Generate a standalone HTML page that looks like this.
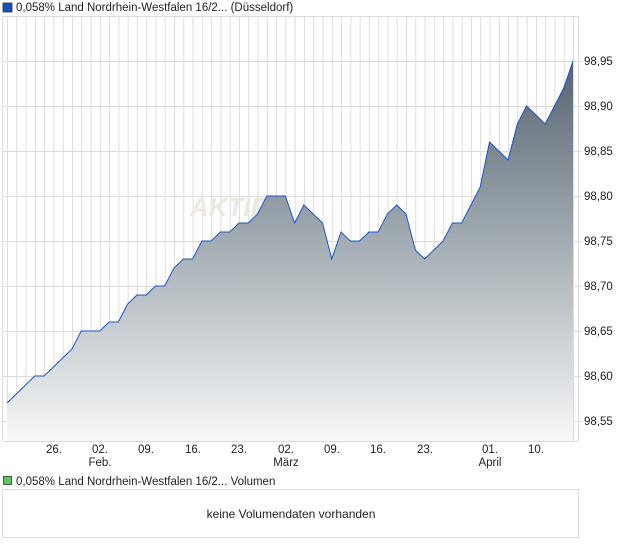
<!DOCTYPE html>
<html><head><meta charset="utf-8"><style>
html,body{margin:0;padding:0;background:#fff;}
body{width:620px;height:546px;overflow:hidden;font-family:"Liberation Sans",sans-serif;}
</style></head><body>
<svg width="620" height="546" xmlns="http://www.w3.org/2000/svg" font-family="Liberation Sans, sans-serif">
<defs>
<linearGradient id="g" x1="0" y1="61" x2="0" y2="441" gradientUnits="userSpaceOnUse">
<stop offset="0" stop-color="#56636f"/>
<stop offset="0.5" stop-color="#a7b0b6"/>
<stop offset="1" stop-color="#f7f8f9"/>
</linearGradient>
<pattern id="vg" patternUnits="userSpaceOnUse" x="7" y="0" width="9.279" height="10">
<line x1="0.5" y1="0" x2="0.5" y2="10" stroke="#dcdcdc" stroke-width="1"/>
</pattern>
</defs>
<rect x="3" y="3" width="9" height="9" fill="#1a4fc0" stroke="#333" stroke-width="0.8"/>
<text x="16" y="11" font-size="11.5" fill="#222">0,058% Land Nordrhein-Westfalen 16/2... (Düsseldorf)</text>
<rect x="3" y="16" width="575" height="425" fill="url(#vg)"/>
<g stroke="#dcdcdc" stroke-width="1">
<line x1="3" y1="16.5" x2="578" y2="16.5"/>
<line x1="3" y1="61.5" x2="582" y2="61.5"/>
<line x1="3" y1="106.5" x2="582" y2="106.5"/>
<line x1="3" y1="151.5" x2="582" y2="151.5"/>
<line x1="3" y1="196.5" x2="582" y2="196.5"/>
<line x1="3" y1="241.5" x2="582" y2="241.5"/>
<line x1="3" y1="286.5" x2="582" y2="286.5"/>
<line x1="3" y1="331.5" x2="582" y2="331.5"/>
<line x1="3" y1="376.5" x2="582" y2="376.5"/>
<line x1="3" y1="421.5" x2="582" y2="421.5"/>
<line x1="2.5" y1="16" x2="2.5" y2="441"/>
<line x1="578.5" y1="16" x2="578.5" y2="441"/>
<line x1="3" y1="441.5" x2="578" y2="441.5"/>
</g>
<text x="190" y="216" font-size="26" font-style="italic" fill="#ece8e2" font-weight="bold">AKTIE</text>
<path d="M7,403 L16.3,394 L25.6,385 L34.8,376 L44.1,376 L53.4,367 L62.7,358 L72,349 L81.2,331 L90.5,331 L99.8,331 L109.1,322 L118.3,322 L127.6,304 L136.9,295 L146.2,295 L155.5,286 L164.7,286 L174,268 L183.3,259 L192.6,259 L201.9,241 L211.1,241 L220.4,232 L229.7,232 L239,223 L248.3,223 L257.5,214 L266.8,196 L276.1,196 L285.4,196 L294.6,223 L303.9,205 L313.2,214 L322.5,223 L331.8,259 L341,232 L350.3,241 L359.6,241 L368.9,232 L378.2,232 L387.4,214 L396.7,205 L406,214 L415.3,250 L424.6,259 L433.8,250 L443.1,241 L452.4,223 L461.7,223 L470.9,205 L480.2,187 L489.5,142 L498.8,151 L508.1,160 L517.3,124 L526.6,106 L535.9,115 L545.2,124 L554.5,106 L563.7,88 L573,61 L573,441 L7,441 Z" fill="url(#g)"/>
<path d="M7,403 L16.3,394 L25.6,385 L34.8,376 L44.1,376 L53.4,367 L62.7,358 L72,349 L81.2,331 L90.5,331 L99.8,331 L109.1,322 L118.3,322 L127.6,304 L136.9,295 L146.2,295 L155.5,286 L164.7,286 L174,268 L183.3,259 L192.6,259 L201.9,241 L211.1,241 L220.4,232 L229.7,232 L239,223 L248.3,223 L257.5,214 L266.8,196 L276.1,196 L285.4,196 L294.6,223 L303.9,205 L313.2,214 L322.5,223 L331.8,259 L341,232 L350.3,241 L359.6,241 L368.9,232 L378.2,232 L387.4,214 L396.7,205 L406,214 L415.3,250 L424.6,259 L433.8,250 L443.1,241 L452.4,223 L461.7,223 L470.9,205 L480.2,187 L489.5,142 L498.8,151 L508.1,160 L517.3,124 L526.6,106 L535.9,115 L545.2,124 L554.5,106 L563.7,88 L573,61" fill="none" stroke="#1a55cc" stroke-width="1"/>
<g font-size="11.5" fill="#222">
<text x="584" y="65">98,95</text>
<text x="584" y="110">98,90</text>
<text x="584" y="155">98,85</text>
<text x="584" y="200">98,80</text>
<text x="584" y="245">98,75</text>
<text x="584" y="290">98,70</text>
<text x="584" y="335">98,65</text>
<text x="584" y="380">98,60</text>
<text x="584" y="425">98,55</text>
</g>
<g font-size="11.5" fill="#222" text-anchor="middle">
<text x="54" y="453">26.</text>
<text x="100" y="453">02.</text>
<text x="146" y="453">09.</text>
<text x="193" y="453">16.</text>
<text x="239" y="453">23.</text>
<text x="286" y="453">02.</text>
<text x="332" y="453">09.</text>
<text x="378" y="453">16.</text>
<text x="425" y="453">23.</text>
<text x="490" y="453">01.</text>
<text x="536" y="453">10.</text>
<text x="100" y="466">Feb.</text>
<text x="286" y="466">März</text>
<text x="490" y="466">April</text>
</g>
<rect x="3.5" y="476.5" width="8" height="8" fill="#5cc85c" stroke="#333" stroke-width="0.8"/>
<text x="16" y="485" font-size="11.5" fill="#222">0,058% Land Nordrhein-Westfalen 16/2... Volumen</text>
<rect x="2.5" y="489.5" width="576" height="48" fill="#fff" stroke="#dcdcdc"/>
<text x="291" y="518" font-size="12" fill="#222" text-anchor="middle">keine Volumendaten vorhanden</text>
</svg>
</body></html>
